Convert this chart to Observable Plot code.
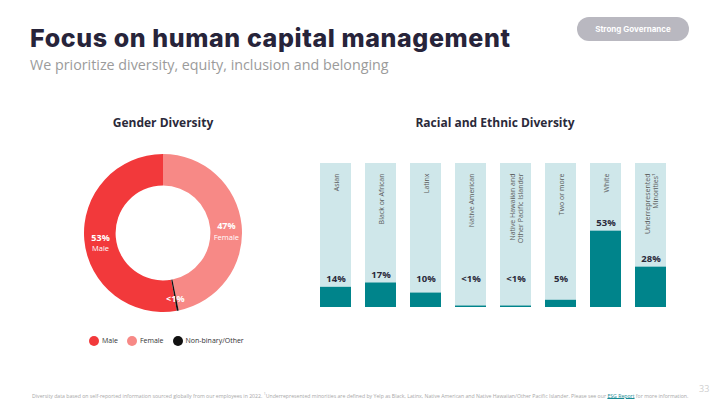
<!DOCTYPE html>
<html>
<head>
<meta charset="utf-8">
<script src="https://cdn.jsdelivr.net/npm/d3@7"></script>
<script src="https://cdn.jsdelivr.net/npm/@observablehq/plot@0.6"></script>
<style>
  html, body { margin: 0; padding: 0; background: #fff; }
  #page { position: relative; width: 720px; height: 405px; overflow: hidden; background: #fff; font-family: "Open Sans", sans-serif; }
  .abs { position: absolute; white-space: nowrap; }
  #title { left: 30px; top: 25.5px; font: 800 25px/24px Inter, sans-serif; color: #27243a; letter-spacing: 0.6px; }
  #subtitle { left: 30px; top: 56.6px; font: 400 14.3px/16px "Open Sans", sans-serif; color: #9b9b9b; }
  #badge { left: 577px; top: 17px; width: 112px; height: 24px; border-radius: 12px; background: #b9b8c0; color: #fff;
           font: 700 8px/24px Inter, sans-serif; text-align: center; }
  .head { font: 700 12px/14px "Open Sans", sans-serif; color: #2b2a3a; transform: translateX(-50%); top: 116px; }
  #legend { left: 89px; top: 335.5px; display: flex; align-items: center; font: 400 7px/10px "Open Sans", sans-serif; color: #333; }
  #legend .item { display: flex; align-items: center; margin-right: 9px; }
  #legend .sw { width: 10px; height: 10px; border-radius: 50%; margin-right: 3px; }
  #footer { left: 32px; top: 389.5px; font: 400 5.18px/7px "Open Sans", sans-serif; color: #a8a8a8; }
  #footer a { color: #1a8c95; text-decoration: underline; }
  #pagenum { left: 699px; top: 383px; font: 400 9px/12px "Open Sans", sans-serif; color: #cfcfcf; }
  #donut { left: 84px; top: 154px; }
  #bars { left: 300px; top: 150px; }
</style>
</head>
<body>
<div id="page">
  <div id="title" class="abs">Focus on human capital management</div>
  <div id="subtitle" class="abs">We prioritize diversity, equity, inclusion and belonging</div>
  <div id="badge" class="abs">Strong Governance</div>
  <div class="abs head" style="left:163px">Gender Diversity</div>
  <div class="abs head" style="left:495px">Racial and Ethnic Diversity</div>
  <div id="donut" class="abs"></div>
  <div id="legend" class="abs"></div>
  <div id="bars" class="abs"></div>
  <div id="footer" class="abs">Diversity data based on self-reported information sourced globally from our employees in 2022. <sup style="font-size:3.5px">1</sup>Underrepresented minorities are defined by Yelp as Black, Latinx, Native American and Native Hawaiian/Other Pacific Islander. Please see our <a>ESG Report</a> for more information.</div>
  <div id="pagenum" class="abs">33</div>
</div>
<script>
// ---- Gender data ----
const genderLabels = ["Male", "Female", "Non-binary/Other"];
const genderValues = [53, 47, 0.4];
const genderText = ["53%", "47%", "<1%"];
const genderColors = ["#f2393b", "#f78986", "#111111"];

// ---- Race data ----
const raceCategories = ["Asian", "Black or African", "Latinx", "Native American",
  "Native Hawaiian and\nOther Pacific Islander", "Two or more", "White", "Underrepresented\nMinorities\u00b9"];
const raceValues = [14, 17, 10, 1, 1, 5, 53, 28];
const raceText = ["14%", "17%", "10%", "<1%", "<1%", "5%", "53%", "28%"];
const fullShare = 100;
const labelFloor = 14;

// ---------- Donut ----------
const gender = genderLabels.map((g, i) => ({label: g, value: genderValues[i], text: genderText[i]}));
const total = d3.sum(genderValues);
const maleAngle = genderValues[0] / total * 2 * Math.PI;
const pie = d3.pie().sort(null).value(d => d.value).startAngle(-maleAngle).endAngle(2 * Math.PI - maleAngle);
const arcs = pie(gender);
const innerRatio = 0.6;
const labelR = (1 + innerRatio) / 2;
const labels = arcs.map(a => {
  const m = (a.startAngle + a.endAngle) / 2;
  return {x: labelR * Math.sin(m), y: labelR * Math.cos(m), text: a.data.text, label: a.data.label};
});

const donutSize = 158;
const donut = Plot.plot({
  width: donutSize, height: donutSize,
  margin: 0,
  x: {domain: [-1, 1], axis: null},
  y: {domain: [-1, 1], axis: null},
  color: {domain: genderLabels, range: genderColors},
  style: {background: "transparent", overflow: "visible"},
  marks: [
    function(index, scales, values, dimensions) {
      const color = (scales && scales.color) ? scales.color : d3.scaleOrdinal(genderLabels, genderColors);
      const w = dimensions.width, h = dimensions.height;
      const R = Math.min(w, h) / 2;
      const arc = d3.arc().innerRadius(R * innerRatio).outerRadius(R);
      const g = d3.create("svg:g").attr("transform", `translate(${w / 2},${h / 2})`);
      g.selectAll("path").data(arcs).join("path")
        .attr("d", arc)
        .attr("fill", d => color(d.data.label));
      return g.node();
    },
    Plot.text(labels.filter(d => d.label !== "Non-binary/Other"), {x: "x", y: "y", text: "text", fill: "white", fontWeight: 700, fontSize: 9, dy: -1, fontFamily: "Open Sans"}),
    Plot.text(labels.filter(d => d.label !== "Non-binary/Other"), {x: "x", y: "y", text: "label", fill: "white", fontSize: 7.5, dy: 10, fontFamily: "Open Sans"}),
    Plot.text(labels.filter(d => d.label === "Non-binary/Other"), {x: "x", y: "y", text: "text", fill: "white", fontWeight: 700, fontSize: 9, dy: 4, fontFamily: "Open Sans"})
  ]
});
document.getElementById("donut").appendChild(donut);

// legend
const leg = document.getElementById("legend");
genderLabels.forEach((g, i) => {
  const it = document.createElement("div");
  it.className = "item";
  it.innerHTML = `<span class="sw" style="background:${genderColors[i]}"></span><span>${g}</span>`;
  leg.appendChild(it);
});

// ---------- Bars ----------
const race = raceCategories.map((c, i) => ({cat: c, value: raceValues[i], text: raceText[i]}));
const bars = Plot.plot({
  width: 400, height: 170,
  marginLeft: 10, marginRight: 24, marginTop: 13, marginBottom: 13,
  x: {domain: raceCategories, paddingInner: 0.3, paddingOuter: 0.15, axis: null},
  y: {domain: [0, 100], axis: null},
  style: {background: "transparent", fontFamily: "Open Sans", overflow: "visible"},
  marks: [
    Plot.barY(race, {x: "cat", y: fullShare, fill: "#cfe7ea"}),
    Plot.barY(race, {x: "cat", y: "value", fill: "#00848b"}),
    Plot.text(race, {x: "cat", y: d => Math.max(d.value, labelFloor), text: "text", dy: -5, lineAnchor: "bottom",
      fontWeight: 700, fontSize: 9.5, fill: "#2b2a3a"}),
    Plot.text(race, {x: "cat", y: fullShare, text: "cat", rotate: -90, textAnchor: "end", lineAnchor: "middle",
      dy: 10, fontSize: 7, fill: "#5a5a5a", lineHeight: 1.15})
  ]
});
document.getElementById("bars").appendChild(bars);
</script>
</body>
</html>
